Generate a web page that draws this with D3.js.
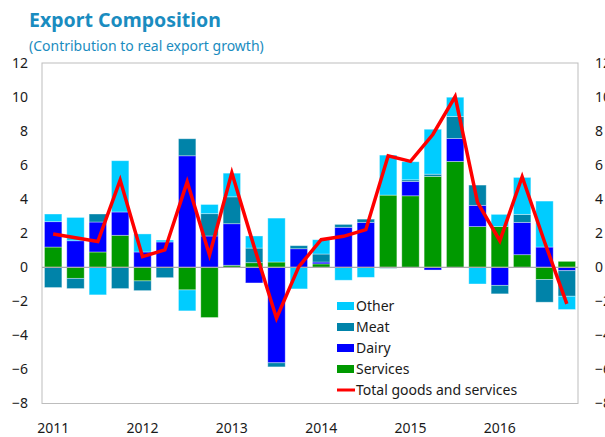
<!DOCTYPE html>
<html>
<head>
<meta charset="utf-8">
<script src="https://cdn.jsdelivr.net/npm/d3@7"></script>
<style>
  body { margin: 0; background: #fff; }
  text { font-family: "Noto Sans", "DejaVu Sans", sans-serif; }
</style>
</head>
<body>
<div id="view"></div>
<script>
var width = 605, height = 437;

var quarters = ["2011Q1","2011Q2","2011Q3","2011Q4","2012Q1","2012Q2","2012Q3","2012Q4",
                "2013Q1","2013Q2","2013Q3","2013Q4","2014Q1","2014Q2","2014Q3","2014Q4",
                "2015Q1","2015Q2","2015Q3","2015Q4","2016Q1","2016Q2","2016Q3","2016Q4"];
var services = [1.19, -0.65, 0.90, 1.88, -0.80, 0, -1.33, -2.95, 0.12, 0.27, 0.31, 0,
                0.20, 0, 0, 4.24, 4.20, 5.34, 6.22, 2.39, 2.40, 0.74, -0.72, 0.35];
var dairy    = [1.49, 1.56, 1.76, 1.37, 0.90, 1.49, 6.55, 1.84, 2.44, -0.92, -5.61, 1.09,
                0.11, 2.35, 2.64, 0, 0.84, -0.16, 1.35, 1.25, -1.06, 1.90, 1.19, -0.20];
var meat     = [-1.19, -0.60, 0.47, -1.25, -0.57, -0.61, 1.00, 1.31, 1.58, 0.86, -0.24, 0.18,
                0.47, 0.17, 0.19, -0.06, 0.10, 0.13, 1.29, 1.19, -0.50, 0.47, -1.33, -1.50];
var other    = [0.45, 1.37, -1.62, 3.01, 1.06, 0.11, -1.23, 0.54, 1.39, 0.71, 2.58, -1.27,
                0.84, -0.76, -0.59, 2.35, 1.06, 2.64, 1.13, -0.98, 0.71, 2.17, 2.70, -0.78];
var total    = [1.96, 1.74, 1.51, 5.12, 0.63, 1.02, 5.02, 0.72, 5.55, 1.20, -2.99, 0.04,
                1.62, 1.82, 2.21, 6.55, 6.22, 7.80, 10.03, 3.81, 1.56, 5.32, 1.50, -2.15];
var yTicks = [12, 10, 8, 6, 4, 2, 0, -2, -4, -6, -8];
var years = ["2011", "2012", "2013", "2014", "2015", "2016"];

var keys = ["Services", "Dairy", "Meat", "Other"];
var colors = { "Services": "#009900", "Dairy": "#0000ff", "Meat": "#0083a9", "Other": "#00ccff" };
var blue = "#1a8cc0";

var plotL = 42, plotR = 578, plotT = 63, plotB = 403.5;

var svg = d3.select("#view").append("svg")
	.attr("width", width)
	.attr("height", height);

// title
svg.append("text").attr("x", 29).attr("y", 27)
	.style("font-size", "19.5px").style("font-weight", "bold").style("fill", blue)
	.text("Export Composition");
svg.append("text").attr("x", 29).attr("y", 51)
	.style("font-size", "14px").style("fill", blue)
	.text("(Contribution to real export growth)");

var x = d3.scaleBand().domain(quarters).range([plotL, plotR]).paddingInner(0.22).paddingOuter(0.11);
var y = d3.scaleLinear().domain([-8, 12]).range([plotB, plotT]);

var rows = quarters.map(function(q, i) {
	return { q: q, Services: services[i], Dairy: dairy[i], Meat: meat[i], Other: other[i] };
});
var series = d3.stack().keys(keys).offset(d3.stackOffsetDiverging)(rows);

// plot frame
svg.append("rect")
	.attr("x", plotL).attr("y", plotT)
	.attr("width", plotR - plotL).attr("height", plotB - plotT)
	.style("fill", "none").style("stroke", "#bdbdbd").style("stroke-width", 1);

svg.selectAll(".series")
	.data(series).enter()
	.append("g")
	.attr("class", "series")
	.style("fill", function(d) { return colors[d.key]; })
	.selectAll("rect")
	.data(function(d) { return d; }).enter()
	.append("rect")
	.attr("x", function(d) { return x(d.data.q); })
	.attr("width", x.bandwidth())
	.attr("y", function(d) { return y(Math.max(d[0], d[1])); })
	.attr("height", function(d) { return Math.abs(y(d[0]) - y(d[1])); })
	.style("stroke", "rgba(255,255,255,0.45)")
	.style("stroke-width", 0.8);

// zero line
svg.append("line")
	.attr("x1", plotL).attr("x2", plotR)
	.attr("y1", y(0)).attr("y2", y(0))
	.style("stroke", "#aaaaaa").style("stroke-width", 1.2);

var line = d3.line()
	.x(function(d, i) { return x(quarters[i]) + x.bandwidth() / 2; })
	.y(function(d) { return y(d); });
svg.append("path")
	.datum(total)
	.attr("d", line)
	.style("fill", "none").style("stroke", "#ff0000")
	.style("stroke-width", 3.5).style("stroke-linejoin", "miter");

// axes labels
var yAxisL = d3.axisLeft(y).tickValues(yTicks).tickSize(0).tickPadding(14);
var gl = svg.append("g").attr("transform", "translate(" + plotL + ",0)").call(yAxisL);
var yAxisR = d3.axisRight(y).tickValues(yTicks).tickSize(0).tickPadding(17);
var gr = svg.append("g").attr("transform", "translate(" + plotR + ",0)").call(yAxisR);
var xAxis = d3.axisBottom(x)
	.tickValues(years.map(function(yr) { return yr + "Q1"; }))
	.tickFormat(function(d) { return d.slice(0, 4); })
	.tickSize(0).tickPadding(20);
var gx = svg.append("g").attr("transform", "translate(0," + plotB + ")").call(xAxis);
[gl, gr, gx].forEach(function(g) {
	g.select(".domain").remove();
	g.selectAll("text").style("font-size", "14px").style("fill", "#1a1a1a")
		.style("font-family", "'Noto Sans', 'DejaVu Sans', sans-serif");
});

// legend
var legend = svg.append("g").attr("transform", "translate(337,306)");
var legendItems = ["Other", "Meat", "Dairy", "Services"];
legend.selectAll(".sw")
	.data(legendItems).enter()
	.append("rect")
	.attr("x", 0).attr("y", function(d, i) { return i * 21 - 4; })
	.attr("width", 17).attr("height", 8)
	.style("fill", function(d) { return colors[d]; });
legend.selectAll(".lt")
	.data(legendItems.concat(["Total goods and services"])).enter()
	.append("text")
	.attr("x", 19).attr("y", function(d, i) { return i * 21 + 5; })
	.style("font-size", "14px").style("fill", "#1a1a1a")
	.text(function(d) { return d; });
legend.append("line")
	.attr("x1", 0).attr("x2", 18).attr("y1", 84).attr("y2", 84)
	.style("stroke", "#ff0000").style("stroke-width", 3);
</script>
</body>
</html>
